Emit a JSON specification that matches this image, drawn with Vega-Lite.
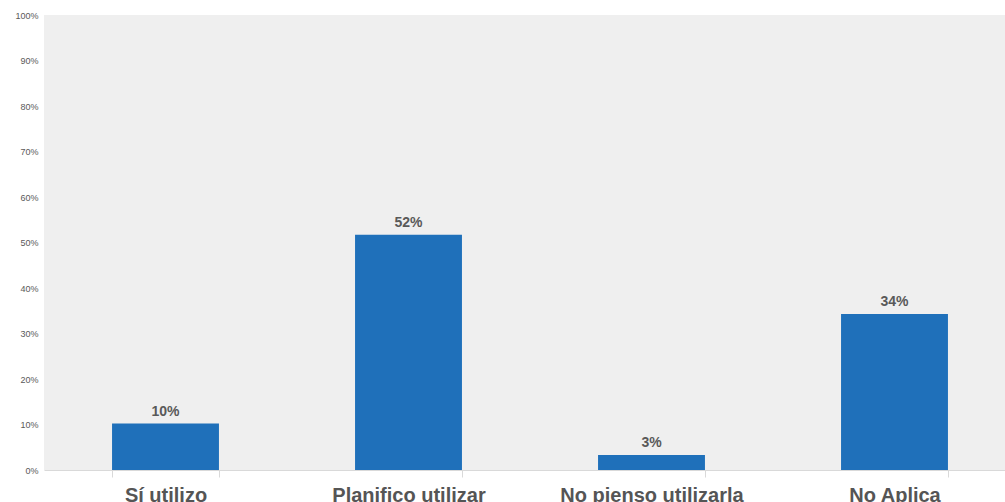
{
  "$schema": "https://vega.github.io/schema/vega-lite/v6.json",
  "width": 972,
  "height": 455,
  "autosize": {"type": "none"},
  "padding": {"left": 44, "top": 15, "right": 0, "bottom": 32},
  "background": "white",
  "config": {
    "view": {"fill": "#efefef", "stroke": null},
    "font": "Liberation Sans"
  },
  "data": {
    "values": [
      {"categoria": "Sí utilizo", "valor": 0.102},
      {"categoria": "Planifico utilizar", "valor": 0.517},
      {"categoria": "No pienso utilizarla", "valor": 0.033},
      {"categoria": "No Aplica", "valor": 0.343}
    ]
  },
  "encoding": {
    "x": {
      "field": "categoria",
      "type": "nominal",
      "sort": null,
      "scale": {"paddingInner": 0.56, "paddingOuter": 0.28},
      "axis": {
        "title": null,
        "labelAngle": 0,
        "labelFontSize": 20,
        "labelFontWeight": "bold",
        "labelColor": "#555555",
        "labelPadding": 8,
        "labelLimit": 0,
        "tickBand": "extent",
        "tickColor": "#d9d9d9",
        "tickSize": 7,
        "domainColor": "#d9d9d9"
      }
    },
    "y": {
      "field": "valor",
      "type": "quantitative",
      "scale": {"domain": [0, 1]},
      "axis": {
        "title": null,
        "format": ".0%",
        "tickCount": 10,
        "grid": false,
        "domain": false,
        "ticks": false,
        "labelFontSize": 9,
        "labelColor": "#595959",
        "labelPadding": 6
      }
    }
  },
  "layer": [
    {"mark": {"type": "bar", "color": "#1f70ba"}},
    {
      "mark": {"type": "text", "dy": -12, "fontSize": 14, "fontWeight": "bold", "color": "#595959"},
      "encoding": {"text": {"field": "valor", "type": "quantitative", "format": ".0%"}}
    }
  ]
}
